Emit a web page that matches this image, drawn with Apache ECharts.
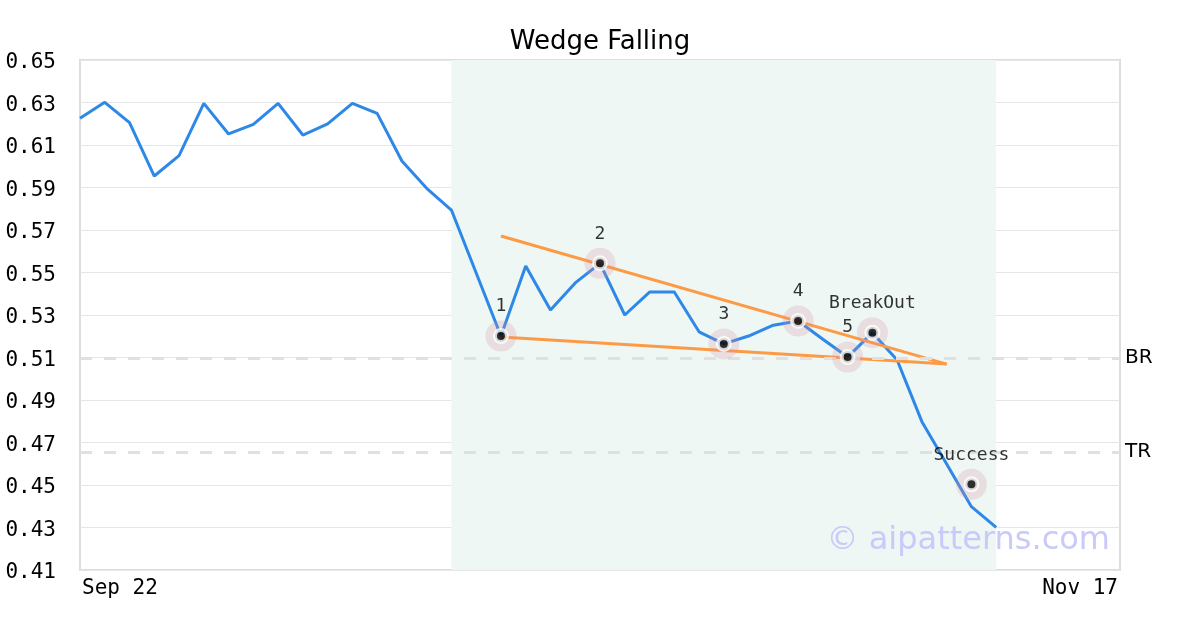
<!DOCTYPE html>
<html>
<head>
<meta charset="utf-8">
<script src="https://cdn.jsdelivr.net/npm/echarts@6/dist/echarts.min.js"></script>
<style>html,body{margin:0;padding:0;background:#fff}#c{width:1200px;height:630px}</style>
</head>
<body>
<div id="c"></div>
<script>
// ---- data ----
const BASE = 0.41;            // bottom of the value axis
const TOP = 0.65;             // top of the value axis
const STEP = 0.02;            // tick step
const slotCount = 43;         // number of time slots on the x axis
const tickLabels = ['Sep 22', 'Nov 17'];
const priceValues = [
  0.6226, 0.6301, 0.6205, 0.5954, 0.6050, 0.6296, 0.6152, 0.6197, 0.6296, 0.6147,
  0.6199, 0.6296, 0.6249, 0.6025, 0.5896, 0.5794, 0.5498, 0.5201, 0.5531, 0.5324,
  0.5451, 0.5543, 0.5300, 0.5408, 0.5408, 0.5221, 0.5164, 0.5201, 0.5252, 0.5272,
  0.5186, 0.5102, 0.5217, 0.5088, 0.4798, 0.4599, 0.4398, 0.4301
];
const markerIdx = [17, 21, 26, 29, 31, 32, 36];
const markerVals = [0.5201, 0.5543, 0.5164, 0.5272, 0.5102, 0.5217, 0.4503];
const markerLabels = ['1', '2', '3', '4', '5', 'BreakOut', 'Success'];
const upperIdx = [17, 35];
const upperVals = [0.5672, 0.5069];
const lowerIdx = [17, 35];
const lowerVals = [0.5196, 0.5069];
const refVals = [0.5097, 0.4655];
const refLabels = ['BR', 'TR'];
const zoneIdx = [15, 37];

// ---- chart ----
const slots = [];
for (let i = 0; i < slotCount; i++) slots.push(String(i));
const sh = v => +(v - BASE).toFixed(6);
const mono = 'DejaVu Sans Mono';
const sans = 'DejaVu Sans';

const chart = echarts.init(document.getElementById('c'), null, {renderer: 'canvas'});
chart.setOption({
  animation: false,
  backgroundColor: '#fff',
  title: {
    text: 'Wedge Falling', left: 'center', top: 24,
    textStyle: {fontFamily: sans, fontSize: 26, fontWeight: 'normal', color: '#000'}
  },
  grid: {left: 80, right: 80, top: 60, bottom: 60, show: true, borderColor: '#dddddd', borderWidth: 2, backgroundColor: 'transparent'},
  xAxis: {
    type: 'category', data: slots, boundaryGap: false,
    axisLine: {show: false}, axisTick: {show: false}, splitLine: {show: false},
    axisLabel: {
      interval: (i) => i === 0 || i === slotCount - 1,
      formatter: (v, i) => i === 0 ? tickLabels[0] : (i === slotCount - 1 ? tickLabels[1] : ''),
      alignMinLabel: 'left', alignMaxLabel: 'right',
      showMinLabel: true, showMaxLabel: true,
      padding: [0, 2, 0, 2],
      fontFamily: mono, fontSize: 21, color: '#000', margin: 8
    }
  },
  yAxis: {
    type: 'value', min: 0, max: sh(TOP), interval: STEP,
    axisLine: {show: false}, axisTick: {show: false},
    splitLine: {show: true, lineStyle: {color: '#e6e6e6', width: 1}},
    axisLabel: {
      formatter: v => (v + BASE).toFixed(2),
      verticalAlign: 'top', lineHeight: 6,
      fontFamily: mono, fontSize: 21, color: '#000', margin: 24
    }
  },
  graphic: [{
    type: 'text', z: 100,
    style: {text: '\u00a9 aipatterns.com', x: 1110, y: 541, align: 'right', verticalAlign: 'middle',
      font: '32px "DejaVu Sans"', fill: '#c9c9fa'}
  }],
  series: [
    {
      type: 'line', data: priceValues.map(sh), symbol: 'none', z: 3,
      lineStyle: {color: '#2d88e8', width: 3},
      markArea: {
        silent: true, itemStyle: {color: '#eef7f3'},
        data: [[{xAxis: zoneIdx[0]}, {xAxis: zoneIdx[1]}]]
      },
      markLine: {
        silent: true, symbol: 'none', precision: 6,
        lineStyle: {color: '#e0e0e0', width: 3, type: [12, 12]},
        label: {position: 'end', distance: 5, fontFamily: sans, fontSize: 20, color: '#000',
          formatter: p => refLabels[p.dataIndex]},
        data: refVals.map(v => ({yAxis: sh(v)}))
      }
    },
    {
      type: 'line', data: upperIdx.map((x, i) => [x, sh(upperVals[i])]), symbol: 'none', z: 4,
      lineStyle: {color: '#fd9a45', width: 3}
    },
    {
      type: 'line', data: lowerIdx.map((x, i) => [x, sh(lowerVals[i])]), symbol: 'none', z: 4,
      lineStyle: {color: '#fd9a45', width: 3}
    },
    {
      type: 'scatter', z: 5, symbol: 'circle', symbolSize: 31,
      itemStyle: {color: 'rgba(215,145,165,0.3)'},
      data: markerIdx.map((x, i) => [x, sh(markerVals[i])]),
      label: {show: true, position: 'top', distance: 5, fontFamily: mono, fontSize: 18, color: '#000',
        formatter: p => markerLabels[p.dataIndex]}
    },
    {
      type: 'scatter', z: 6, symbol: 'circle', symbolSize: 12,
      itemStyle: {color: '#000', borderColor: '#fff', borderWidth: 4},
      data: markerIdx.map((x, i) => [x, sh(markerVals[i])])
    }
  ]
});
</script>
</body>
</html>
